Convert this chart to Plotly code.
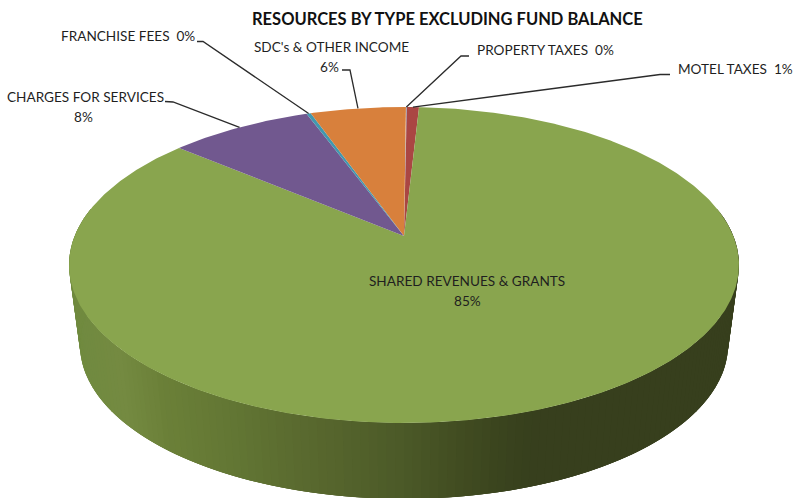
import numpy as np
import plotly.graph_objects as go

# Resources by type, in percent, clockwise from the first slice angle
categories = ["PROPERTY TAXES", "MOTEL TAXES", "SHARED REVENUES & GRANTS",
              "CHARGES FOR SERVICES", "FRANCHISE FEES", "SDC's & OTHER INCOME"]
shares = [0.05, 0.7, 85.3, 8.2, 0.25, 5.5]
title_text = "RESOURCES BY TYPE EXCLUDING FUND BALANCE"

slice_colors = ["#4A78AD", "#AA4643", "#89A54E", "#71588F", "#4198AF", "#D8803C"]

# Label placement in canvas units; a percent position of None keeps the
# percent inline after the name
name_centres = [(545, 50), (735, 69), (467, 281), (85, 97), (128, 36), (331, 47)]
percent_centres = [None, None, (467, 301), (83, 117), None, (329, 66.5)]
leader_starts = [(469, 56), (670, 74.5), None, (165, 101.5), (197, 41.5), (342, 70)]
leader_elbows = [(461, 56), (660, 74.5), None, (173, 102), (203, 41.5), (350, 70)]

# Projection of the tilted disc onto the canvas
CX, TILT = 404, 0.1835
FIRST_SLICE_ANGLE = np.radians(0.4)
TOP_RIM = dict(a=329.3, b=152.7, y0=236.0)
BASE_RIM = dict(a=318.5, b=148.8, y0=316.7)

# Shading along the outer wall, by canvas x
wall_x = [69, 125, 165, 230, 300, 400, 450, 500, 530, 740]
wall_r = [0x6F, 0x74, 0x6B, 0x63, 0x5A, 0x4C, 0x43, 0x3A, 0x37, 0x37]
wall_g = [0x8A, 0x8A, 0x80, 0x77, 0x6A, 0x5A, 0x4E, 0x44, 0x3F, 0x3F]
wall_b = [0x3F, 0x41, 0x38, 0x34, 0x2F, 0x28, 0x22, 0x1E, 0x1D, 0x1D]


def project(theta, rim):
    """Map an angle (radians clockwise from the top) onto a rim."""
    u, v = np.sin(theta), -np.cos(theta)
    w = 1 - TILT * v
    return CX + rim["a"] * u / w, rim["y0"] + rim["b"] * v / w


fig = go.Figure()


def polygon(xs, ys, color):
    fig.add_trace(go.Scatter(x=list(xs), y=list(ys), mode="lines", fill="toself", fillcolor=color,
                             line=dict(color=color, width=0), hoverinfo="skip",
                             showlegend=False))


# Outer wall: each band reaches a little past the next one, so the bands
# painted later cover the joins and no background shows between them
side_start = np.arccos(TILT)
edges = np.linspace(side_start, 2 * np.pi - side_start, 161)
for i in range(len(edges) - 1):
    span = edges[i:min(i + 4, len(edges))]
    px, py = project(span, TOP_RIM)
    qx, qy = project(span, BASE_RIM)
    mid = (px[0] + px[1] + qx[0] + qx[1]) / 4
    shade = "rgb({:.0f},{:.0f},{:.0f})".format(np.interp(mid, wall_x, wall_r),
                                               np.interp(mid, wall_x, wall_g),
                                               np.interp(mid, wall_x, wall_b))
    polygon(np.r_[px, qx[::-1], px[0]], np.r_[py, qy[::-1], py[0]], shade)

# Top face of each slice
fractions = np.array(shares) / sum(shares)
bounds = FIRST_SLICE_ANGLE + np.concatenate([[0], np.cumsum(fractions)]) * 2 * np.pi
for i, color in enumerate(slice_colors):
    steps = max(3, int((bounds[i + 1] - bounds[i]) / 0.01))
    rx, ry = project(np.linspace(bounds[i], bounds[i + 1], steps), TOP_RIM)
    polygon([CX, *rx, CX], [TOP_RIM["y0"], *ry, TOP_RIM["y0"]], color)

# Leader lines run from each label to the rim at its slice's mid-angle
for i, start in enumerate(leader_starts):
    if start is None:
        continue
    ex, ey = project((bounds[i] + bounds[i + 1]) / 2, TOP_RIM)
    elbow = leader_elbows[i]
    fig.add_trace(go.Scatter(x=[start[0], elbow[0], float(ex)],
                             y=[start[1], elbow[1], float(ey)], mode="lines",
                             line=dict(color="#2b2b2b", width=1.3), hoverinfo="skip",
                             showlegend=False))

font_family = "Lato, 'Open Sans', sans-serif"
label_font = dict(family=font_family, size=13.6, color="#1f1f1f")


def note(text, x, y, font):
    return dict(text=text, x=x, y=y, xref="x", yref="y", showarrow=False, font=font)


annotations = [note(f"<b>{title_text}</b>", 447, 19,
                    dict(family=font_family, size=16.5, color="#111111"))]
for name, share, name_at, percent_at in zip(categories, shares, name_centres, percent_centres):
    percent = f"{round(share):d}%"
    if percent_at is None:
        annotations.append(note(f"{name}\u00a0\u00a0{percent}", *name_at, label_font))
    else:
        annotations.append(note(name, *name_at, label_font))
        annotations.append(note(percent, *percent_at, label_font))

hidden = dict(visible=False, fixedrange=True, showgrid=False, zeroline=False)
fig.update_layout(width=794, height=498, margin=dict(l=0, r=0, t=0, b=0),
                  paper_bgcolor="white", plot_bgcolor="white", showlegend=False,
                  xaxis=dict(range=[0, 794], **hidden),
                  yaxis=dict(range=[498, 0], **hidden),
                  annotations=annotations)

fig.write_html("out.html", config=dict(displayModeBar=False))
